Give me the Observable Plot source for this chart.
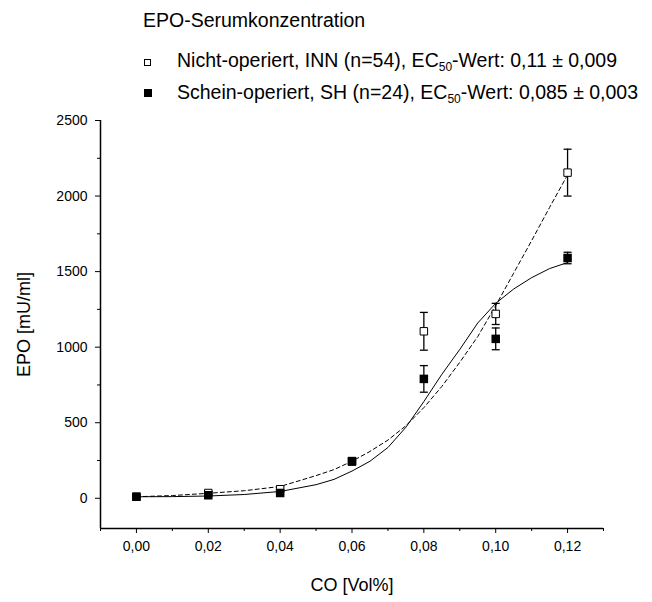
<!DOCTYPE html>
<html><head><meta charset="utf-8">
<script src="https://cdn.jsdelivr.net/npm/d3@7"></script>
<script src="https://cdn.jsdelivr.net/npm/@observablehq/plot@0.6"></script>
<style>
body{margin:0;background:#fff;font-family:"Liberation Sans",Arial,sans-serif;}
#head{position:relative;height:110px;width:652px;}
.t{position:absolute;white-space:nowrap;font-size:19.5px;color:#000;line-height:1;}
.sym{position:absolute;box-sizing:border-box;}
sub{font-size:12px;vertical-align:-4px;line-height:0;}
</style></head>
<body>
<div id="head">
 <div class="t" style="left:143px;top:11px;">EPO-Serumkonzentration</div>
 <div class="sym" style="left:144px;top:59px;width:7px;height:7px;border:1px solid #000;background:#fff"></div>
 <div class="t" style="left:177px;top:51px;">Nicht-operiert, INN (n=54), EC<sub>50</sub>-Wert: 0,11 ± 0,009</div>
 <div class="sym" style="left:144px;top:89px;width:8px;height:8px;background:#000"></div>
 <div class="t" style="left:177px;top:83px;">Schein-operiert, SH (n=24), EC<sub>50</sub>-Wert: 0,085 ± 0,003</div>
</div>
<div id="chart"></div>
<script>
const xValues = [0, 0.02, 0.04, 0.06, 0.08, 0.10, 0.12];
const innMean = [10, 35, 60, 245, 1105, 1220, 2155];
const innErr  = [5, 12, 15, 20, 125, 70, 155];
const shMean  = [10, 20, 35, 245, 790, 1055, 1590];
const shErr   = [5, 8, 12, 25, 88, 72, 38];
const fitX   = [0, 0.01, 0.02, 0.03, 0.04, 0.05, 0.055, 0.06, 0.065, 0.07, 0.075, 0.08, 0.085, 0.09, 0.095, 0.10, 0.105, 0.11, 0.115, 0.12];
const innFit = [10, 18, 33, 50, 78, 150, 190, 245, 310, 385, 480, 600, 740, 900, 1070, 1275, 1490, 1705, 1925, 2140];
const shFit  = [10, 11, 15, 25, 45, 90, 125, 180, 245, 336, 470, 640, 820, 985, 1160, 1290, 1385, 1460, 1520, 1560];
const yMajor = [0, 500, 1000, 1500, 2000, 2500];
const yMinor = [250, 750, 1250, 1750, 2250];
const xMajor = [0, 0.02, 0.04, 0.06, 0.08, 0.10, 0.12];
const xMinor = [-0.01, 0.01, 0.03, 0.05, 0.07, 0.09, 0.11, 0.13];
const xLabel = "CO [Vol%]";
const yLabel = "EPO [mU/ml]";

const inn = xValues.map((x, i) => ({x, y: innMean[i], lo: innMean[i] - innErr[i], hi: innMean[i] + innErr[i]}));
const sh  = xValues.map((x, i) => ({x, y: shMean[i], lo: shMean[i] - shErr[i], hi: shMean[i] + shErr[i]}));
const innLine = fitX.map((x, i) => ({x, y: innFit[i]}));
const shLine  = fitX.map((x, i) => ({x, y: shFit[i]}));

const cap = {draw(ctx, size){ const r = Math.sqrt(size/Math.PI); ctx.moveTo(-r,0); ctx.lineTo(r,0); }};
const comma = d => d.toFixed(2).replace(".", ",");

function bars(data){
  return [
    Plot.ruleX(data, {x: "x", y1: "lo", y2: "hi", stroke: "#000", strokeWidth: 1.3}),
    Plot.dot(data, {x: "x", y: "lo", symbol: cap, r: 4, stroke: "#000", strokeWidth: 1.3}),
    Plot.dot(data, {x: "x", y: "hi", symbol: cap, r: 4, stroke: "#000", strokeWidth: 1.3})
  ];
}

const chart = Plot.plot({
  width: 652, height: 492,
  marginLeft: 100, marginRight: 49, marginTop: 10, marginBottom: 74,
  style: {fontFamily: "Liberation Sans, Arial, sans-serif", fontSize: "14px", background: "#fff", color: "#000"},
  x: {domain: [-0.01, 0.13]},
  y: {domain: [-200, 2500]},
  marks: [
    Plot.axisY({ticks: yMajor, tickSize: 5, tickPadding: 8, tickFormat: d3.format("d"), label: null, fontSize: 14}),
    Plot.axisY({ticks: yMinor, tickSize: 3, tickFormat: () => "", label: null}),
    Plot.axisX({ticks: xMajor, tickSize: 5, tickPadding: 8, tickFormat: comma, label: null, fontSize: 14}),
    Plot.axisX({ticks: xMinor, tickSize: 3, tickFormat: () => "", label: null}),
    Plot.ruleX([-0.01], {stroke: "#000", strokeWidth: 1.5}),
    Plot.ruleY([-200], {stroke: "#000", strokeWidth: 1.5}),
    Plot.text([xLabel], {frameAnchor: "bottom", dy: 62, fontSize: 18}),
    Plot.text([yLabel], {frameAnchor: "left", dx: -76, rotate: -90, textAnchor: "middle", fontSize: 18}),
    Plot.line(innLine, {x: "x", y: "y", stroke: "#000", strokeWidth: 1, strokeDasharray: "4,3"}),
    Plot.line(shLine, {x: "x", y: "y", stroke: "#000", strokeWidth: 1}),
    ...bars(inn),
    Plot.dot(inn, {x: "x", y: "y", symbol: "square", r: 4.2, fill: "#fff", stroke: "#000", strokeWidth: 1}),
    ...bars(sh),
    Plot.dot(sh, {x: "x", y: "y", symbol: "square", r: 4.8, fill: "#000", stroke: "none"})
  ]
});
document.getElementById("chart").appendChild(chart);
</script>
</body></html>
